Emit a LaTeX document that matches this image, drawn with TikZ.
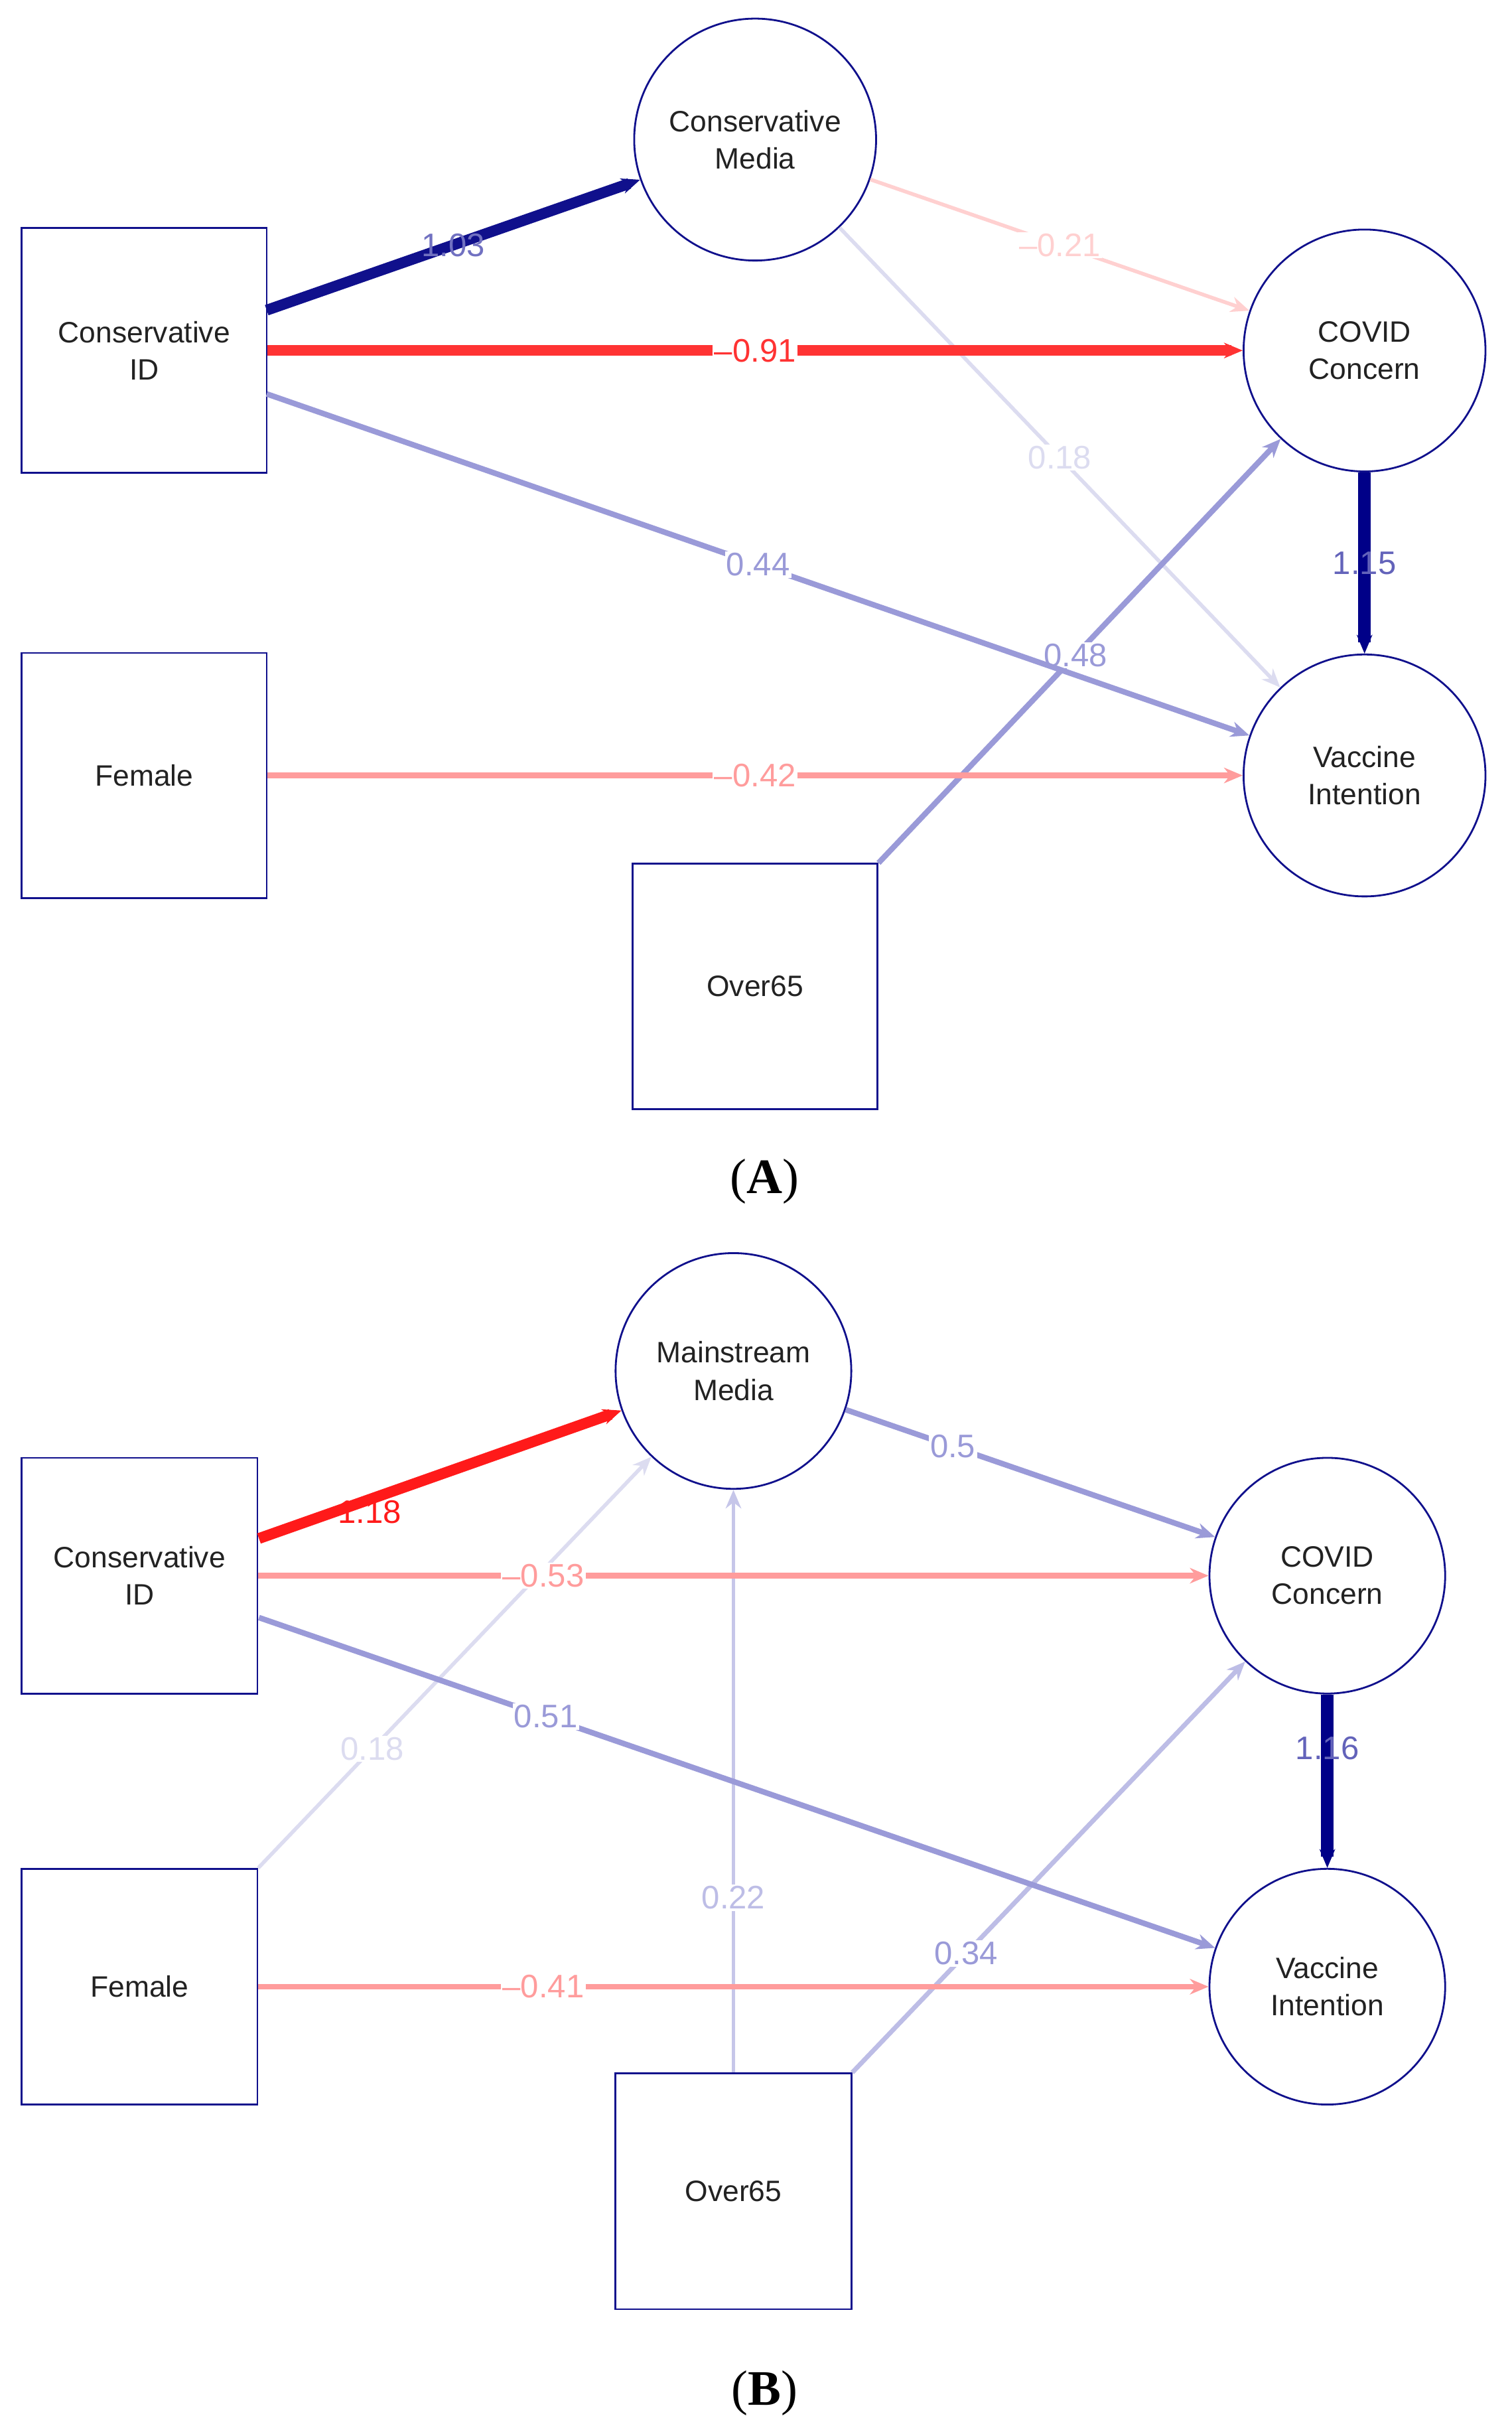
\documentclass[tikz,border=0pt]{standalone}
\usepackage{fontspec}
\setmainfont{Liberation Sans}
\newfontfamily\serifbold{Liberation Serif}
\usetikzlibrary{arrows.meta}
\definecolor{navy}{HTML}{10108C}
\definecolor{dnavy}{HTML}{000088}
\definecolor{rd}{HTML}{FF3333}
\definecolor{rdd}{HTML}{FF1A1A}
\definecolor{pk}{HTML}{FF9C9C}
\definecolor{lpk}{HTML}{FFD0D0}
\definecolor{lav}{HTML}{9A9AD8}
\definecolor{llav}{HTML}{DCDCF0}
\definecolor{mlav}{HTML}{BDBDE6}
\definecolor{txt}{HTML}{222222}
\tikzset{
  box/.style={draw=navy,line width=0.6pt,minimum width=79pt,minimum height=79pt,inner sep=0pt,font=\fontsize{9.5}{12}\selectfont,text=txt,align=center},
  circ/.style={draw=navy,line width=0.6pt,circle,minimum size=#1,inner sep=0pt,font=\fontsize{9.5}{12}\selectfont,text=txt,align=center},
  edge/.style={line width=#1,-{Stealth[length=6pt,width=5pt]}},
  lab/.style={fill=white,inner sep=0.5pt,font=\fontsize{10.5}{12}\selectfont},
}
\begin{document}
\begin{tikzpicture}[x=0.5pt,y=-0.5pt]
\useasboundingbox (0,0) rectangle (975,1563);
% Panel A
\node[box] (cid) at (93,226) {Conservative\\ID};
\node[box] (fem) at (93,500) {Female};
\node[box] (o65) at (487,636) {Over65};
\node[circ=78pt] (cm) at (487,90) {Conservative\\Media};
\node[circ=78pt] (cc) at (880,226) {COVID\\Concern};
\node[circ=78pt] (vi) at (880,500) {Vaccine\\Intention};
\coordinate (a1) at (172,200);
\coordinate (a2) at (172,254);
\draw[edge=1.2pt,llav] (cm) -- (vi) node[pos=0.5,lab,text=llav]{0.18};
\draw[edge=1.8pt,lav] (o65.north east) -- (cc) node[pos=0.49,lab,text=lav]{0.48};
\draw[edge=1.8pt,lav] (a2) -- (vi) node[pos=0.5,lab,text=lav]{0.44};
\draw[edge=1.2pt,lpk] (cm) -- (cc) node[pos=0.5,lab,text=lpk]{--0.21};
\draw[edge=3.5pt,navy] (a1) -- (cm) node[pos=0.5,lab,fill=none,text=lav!70!navy]{1.03};
\draw[edge=3.5pt,rd] (cid.east) -- (cc) node[pos=0.5,lab,text=rd]{--0.91};
\draw[edge=1.8pt,pk] (fem.east) -- (vi) node[pos=0.5,lab,text=pk]{--0.42};
\draw[edge=4pt,dnavy] (cc) -- (vi) node[pos=0.5,lab,fill=none,text=lav!60!navy]{1.15};
\node[font=\serifbold\fontsize{16}{18}\selectfont] (la) at (493,762) {(\textbf{A})};
% Panel B
\node[box,minimum width=76pt,minimum height=76pt] (cid2) at (90,1016) {Conservative\\ID};
\node[box,minimum width=76pt,minimum height=76pt] (fem2) at (90,1281) {Female};
\node[box,minimum width=76pt,minimum height=76pt] (o652) at (473,1413) {Over65};
\node[circ=76pt] (mm) at (473,884) {Mainstream\\Media};
\node[circ=76pt] (cc2) at (856,1016) {COVID\\Concern};
\node[circ=76pt] (vi2) at (856,1281) {Vaccine\\Intention};
\coordinate (b1) at (167,992);
\coordinate (b2) at (167,1043);
\draw[edge=1.2pt,llav] (fem2.north east) -- (mm) node[pos=0.29,lab,text=llav]{0.18};
\draw[edge=1.2pt,mlav!70!llav] (o652.north) -- (mm) node[pos=0.3,lab,text=mlav]{0.22};
\draw[edge=1.5pt,mlav] (o652.north east) -- (cc2) node[pos=0.29,lab,text=lav]{0.34};
\draw[edge=1.8pt,lav] (b2) -- (vi2) node[pos=0.3,lab,text=lav]{0.51};
\draw[edge=1.8pt,lav] (mm) -- (cc2) node[pos=0.29,lab,text=lav]{0.5};
\draw[edge=1.8pt,pk] (cid2.east) -- (cc2) node[pos=0.3,lab,text=pk]{--0.53};
\draw[edge=1.8pt,pk] (fem2.east) -- (vi2) node[pos=0.3,lab,text=pk]{--0.41};
\draw[edge=3.5pt,rdd] (b1) -- (mm) node[pos=0.28,lab,fill=none,text=rdd,yshift=-3pt]{--1.18};
\draw[edge=4pt,dnavy] (cc2) -- (vi2) node[pos=0.31,lab,fill=none,text=lav!60!navy]{1.16};
\node[font=\serifbold\fontsize{16}{18}\selectfont] (lb) at (493,1543) {(\textbf{B})};
\end{tikzpicture}
\end{document}
